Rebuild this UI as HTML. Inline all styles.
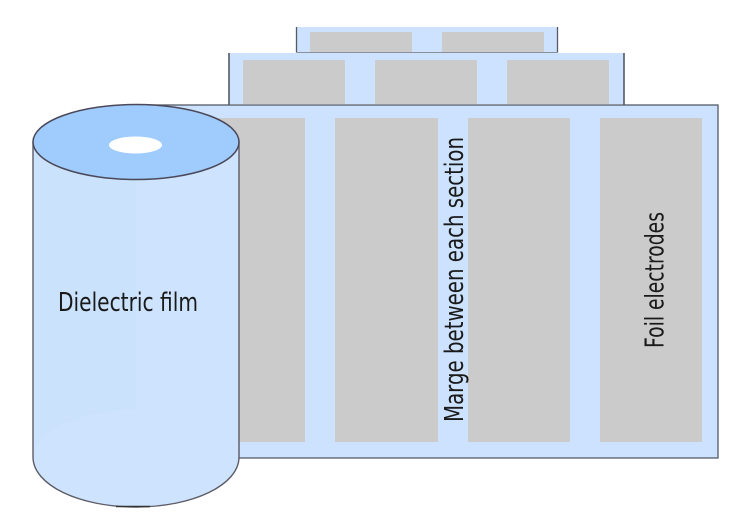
<!DOCTYPE html>
<html>
<head>
<meta charset="utf-8">
<style>
html,body{margin:0;padding:0;background:#fff;width:748px;height:524px;overflow:hidden}
svg{display:block}
text{font-family:"DejaVu Sans","Liberation Sans",sans-serif;fill:#1a1a1a;font-size:26px}
</style>
</head>
<body>
<svg width="748" height="524" viewBox="0 0 748 524" xmlns="http://www.w3.org/2000/svg">
<!-- top strip -->
<rect x="296.500" y="27" width="261" height="26" fill="#cce2fe"/>
<rect x="310" y="32" width="102" height="20" fill="#cbcbcb"/>
<rect x="442" y="32" width="102" height="20" fill="#cbcbcb"/>
<path d="M296.500 27V52.500M557.500 27V52.500" fill="none" stroke="#555b66" stroke-width="1.300"/>
<path d="M296.500 52.500H557.500" fill="none" stroke="#8a8f98" stroke-width="1"/>
<!-- middle strip -->
<rect x="229" y="53" width="395" height="51" fill="#cce2fe"/>
<rect x="243" y="60" width="102" height="44" fill="#cbcbcb"/>
<rect x="375" y="60" width="102" height="44" fill="#cbcbcb"/>
<rect x="507" y="60" width="102" height="44" fill="#cbcbcb"/>
<path d="M229 53V104.500M624 53V104.500" fill="none" stroke="#4a505c" stroke-width="1.500"/>
<!-- main sheet -->
<rect x="150" y="105" width="568" height="353" fill="#cce2fe" stroke="#555b66" stroke-width="1.300"/>
<rect x="203" y="118" width="102" height="324" fill="#cbcbcb"/>
<rect x="335" y="118" width="103" height="324" fill="#cbcbcb"/>
<rect x="468" y="118" width="102" height="324" fill="#cbcbcb"/>
<rect x="600" y="118" width="102" height="324" fill="#cbcbcb"/>
<!-- cylinder -->
<path d="M33 142V457C33 485 79 507 136 507C193 507 239 485 239 457V142Z" fill="#cde3fe" stroke="#5d5b67" stroke-width="1.400"/>
<path d="M35 455C36 430 80 410 136 410L136 143L35 143Z" fill="#c7dffd" opacity=".25"/>
<path d="M116 506.500H150" stroke="#333" stroke-width="1.500"/>
<ellipse cx="136" cy="142" rx="103" ry="37.500" fill="#9fcbfd" stroke="#4b4859" stroke-width="1.500"/>
<ellipse cx="135.500" cy="145" rx="26.500" ry="8.500" fill="#fff"/>
<!-- labels -->
<text x="58" y="311" textLength="140" lengthAdjust="spacingAndGlyphs">Dielectric film</text>
<text transform="translate(463 422) rotate(-90)" textLength="285" lengthAdjust="spacingAndGlyphs">Marge between each section</text>
<text transform="translate(663.500 348) rotate(-90)" textLength="136" lengthAdjust="spacingAndGlyphs">Foil electrodes</text>
</svg>
</body>
</html>
